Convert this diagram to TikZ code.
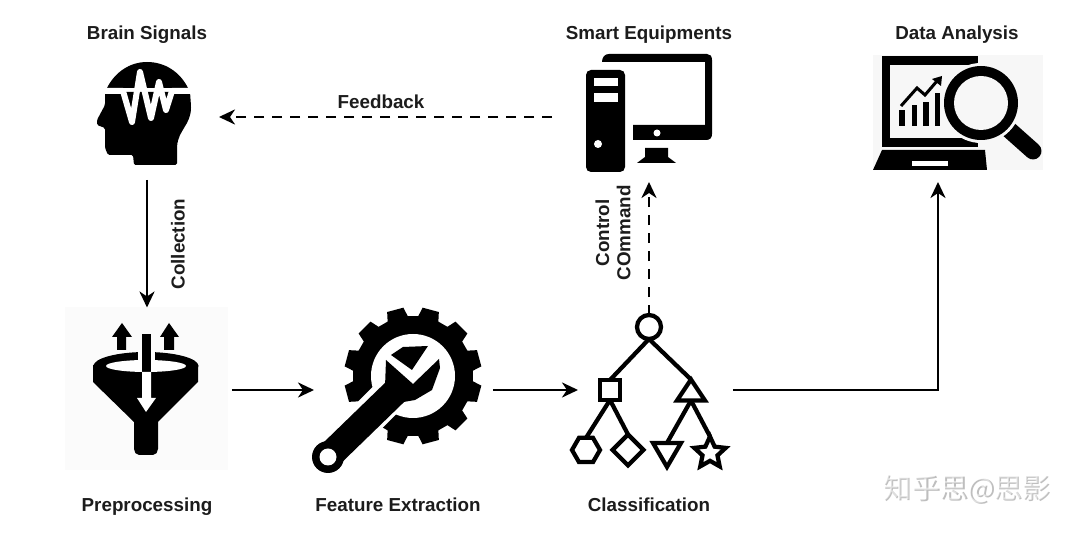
\documentclass[tikz,border=0pt]{standalone}
\usepackage{fontspec}
\setmainfont{Liberation Sans}
\newfontfamily\cjk{Noto Sans CJK SC}
\usetikzlibrary{arrows.meta,calc,shapes.geometric}
\definecolor{ink}{RGB}{0,0,0}
\definecolor{labelink}{RGB}{28,28,28}
\definecolor{markgray}{RGB}{190,190,190}
\definecolor{softcheck}{RGB}{247,247,247}
\definecolor{softfunnel}{RGB}{251,251,251}
\tikzset{
    flow/.style={->,line width=0.055cm,ink},
    flowdash/.style={->,line width=0.055cm,ink,dash pattern=on 0.2cm off 0.16cm},
    caption/.style={font=\bfseries\fontsize{10.7}{12}\selectfont,text=labelink,inner sep=0pt},
    iconbox/.style={minimum width=#1,inner sep=0pt,outer sep=0pt},
    treeedge/.style={line width=0.085cm,ink},
    treenode/.style={draw=ink,line width=0.085cm,fill=white,inner sep=0pt,outer sep=0pt},
    flat/.style={isosceles triangle,isosceles triangle stretches,shape border rotate=#1,minimum width=0.56cm,minimum height=0.42cm},
    watermark/.style={font=\cjk\fontsize{16}{18}\selectfont,inner sep=0pt}
}

\begin{document}
\begin{tikzpicture}[x=0.02cm,y=-0.02cm,>={Stealth[length=0.32cm,width=0.3cm,inset=0.1cm]}]
    \fill[white] (0,0) rectangle (1080,536);
    \useasboundingbox (0,0) rectangle (1080,536);

    % Faint icon backgrounds
    \fill[softfunnel] (65,307) rectangle (228,470);
    \fill[softcheck] (873,55) rectangle (1043,170);

    % Head
    \fill[ink] (107,88) .. controls (115,72) and (130,62) .. (147,62) .. controls (165,62) and (180,72) .. (188,88) -- cycle;
    \fill[ink,rounded corners=0.03cm] (105,92) -- (190,92) -- (191,106) .. controls (191,125) and (178,130) .. (177,148) -- (177,165) -- (134,165) -- (133,155) -- (108,155) -- (105,148) -- (105,128) -- (97,125) -- (97,120) -- (105,105) -- cycle;
    \draw[white,line width=0.12cm,line join=round] (104,91) -- (123,91) -- (132,122) -- (140,72) -- (151,118) -- (159,82) -- (166,110) -- (172,91) -- (192,91);

    % Computer
    \fill[ink,rounded corners=0.1cm] (586,70) rectangle (625,172);
    \fill[white] (594,78) rectangle (618,86);
    \fill[white] (594,93) rectangle (618,102);
    \fill[white] (598,144) circle (4);
    \fill[ink] (602,62) .. controls (602,57) and (605,54) .. (609,54) -- (707,54) .. controls (710,54) and (712,56) .. (712,60) -- (712,134) .. controls (712,138) and (710,140) .. (706,140) -- (633,140) -- (633,125) -- (705,125) -- (705,62) -- cycle;
    \fill[white] (657,133) circle (3.5);
    \fill[ink] (645,148) -- (668,148) -- (668,157) -- (676,163) -- (637,163) -- (645,157) -- cycle;

    % Screen with chart and lens
    \fill[ink] (882,56) rectangle (978,147);
    \fill[softcheck] (890,65) rectangle (978,138);
    \fill[softcheck] (978,56) rectangle (990,147);
    \fill[ink] (899,110) rectangle (905,126);
    \fill[ink] (912,105) rectangle (917,126);
    \fill[ink] (923,102) rectangle (929,126);
    \fill[ink] (935,93) rectangle (940,126);
    \draw[ink,line width=0.06cm] (901,106) -- (917,88) -- (925,95) -- (937,81);
    \fill[ink] (942,76) -- (941,86) -- (932,79) -- cycle;
    \fill[ink] (882,150) -- (985,150) -- (987,170) -- (873,170) -- cycle;
    \fill[white] (912,161) rectangle (948,166);
    \draw[ink,line width=0.34cm,line cap=round] (1006,127) -- (1033,151);
    \fill[softcheck] (981,103) circle (40);
    \fill[ink] (981,103) circle (37);
    \fill[softcheck] (981,103) circle (27);

    % Funnel
    \fill[ink] (122,323) -- (132,337) -- (126,337) -- (126,350) -- (117,350) -- (117,337) -- (112,337) -- cycle;
    \fill[ink] (169,323) -- (179,337) -- (174,337) -- (174,350) -- (164,350) -- (164,337) -- (160,337) -- cycle;
    \fill[ink] (93,365) -- (93,382) -- (134,422) -- (134,449) .. controls (134,452) and (136,455) .. (139,455) -- (153,455) .. controls (156,455) and (158,452) .. (158,449) -- (158,422) -- (198,382) -- (198,365) -- cycle;
    \fill[ink] (146,366) ellipse (52.5 and 14);
    \fill[white] (146,366) ellipse (40 and 6);
    \fill[white] (138,350) rectangle (155,366);
    \fill[ink] (142,334) rectangle (151,372);
    \fill[white] (142,372) -- (151,372) -- (151,398) -- (156,398) -- (146,412) -- (137,398) -- (142,398) -- cycle;

    % Gear and wrench
    \fill[ink,shift={(413,376)}] (5:60) \foreach \a in {15,45,...,345} { -- (\a-10:60) -- (\a-7:69) -- (\a+7:69) -- (\a+10:60) } -- cycle;
    \fill[white] (413,376) circle (42);
    \draw[white,line width=0.72cm] (322,463) -- (400,385);
    \fill[ink] (391,355) -- (403,347) -- (428,346) -- (412,370) -- cycle;
    \fill[ink] (386,360) -- (413,384) -- (439,359) -- (440,368) -- (432,390) -- (415,400) -- (398,403) -- (385,387) -- cycle;
    \draw[ink,line width=0.54cm] (328,457) -- (395,392);
    \fill[ink] (328,457) circle (16);
    \fill[white] (328,457) circle (8.5);

    % Tree of shapes
    \node[treenode,circle,minimum size=0.48cm] (root) at (649,327) {};
    \node[treenode,rectangle,minimum size=0.4cm] (sqnode) at (610,390) {};
    \node[treenode,flat=90] (uptri) at (691,393) {};
    \node[treenode,regular polygon,regular polygon sides=6,minimum size=0.56cm] (hexleaf) at (586,450) {};
    \node[treenode,diamond,minimum size=0.62cm] (diamleaf) at (628,450) {};
    \node[treenode,flat=270,minimum height=0.48cm] (downtri) at (667,451) {};
    \node[treenode,star,star points=5,star point ratio=2.1,minimum size=0.66cm] (starleaf) at (710,453) {};
    \draw[treeedge] (root.south) -- (sqnode.north);
    \draw[treeedge] (root.south) -- (uptri.apex);
    \draw[treeedge] (sqnode.south) -- (hexleaf.north);
    \draw[treeedge] (sqnode.south) -- (diamleaf.north);
    \draw[treeedge] (uptri.south) -- (downtri.north);
    \draw[treeedge] (uptri.south) -- (starleaf.north);

    % Invisible boxes round the icons
    \node[iconbox=2.88cm,minimum height=2.52cm] (brain) at (147,117) {};
    \node[iconbox=3.88cm,minimum height=2.6cm] (smart) at (649,117) {};
    \node[iconbox=4.16cm,minimum height=2.6cm] (data) at (938,117) {};
    \node[iconbox=3.4cm,minimum height=3.3cm] (prep) at (147,390) {};
    \node[iconbox=3.58cm,minimum height=3.4cm] (feat) at (403.5,390) {};
    \node[iconbox=3.1cm,minimum height=3.4cm] (clas) at (655.5,390) {};

    % Connectors
    \draw[flow] (brain) -- (prep);
    \draw[flow] (prep) -- (feat);
    \draw[flow] (feat) -- (clas);
    \draw[flow] (clas.east) -| (data.south);
    \draw[flowdash] (smart.west) -- (brain.east);
    \draw[flowdash] (root.north) -- (smart.south);

    % Labels
    \node[caption] (brainlabel) at (147,35) {Brain Signals};
    \node[caption] (smartlabel) at (649,35) {Smart Equipments};
    \node[caption] (datalabel) at (957,35) {Data Analysis};
    \node[caption] (preplabel) at (147,507) {Preprocessing};
    \node[caption] (featlabel) at (398,505) {Feature Extraction};
    \node[caption] (claslabel) at (649,505) {Classification};
    \node[caption] (fblabel) at (381,102) {Feedback};
    \node[caption,rotate=90] (collabel) at (178,244) {Collection};
    \node[caption,rotate=90,align=center] (cmdlabel) at (613,233) {Control\\COmmand};

    % Watermark
    \node[watermark,text=markgray] (markback) at (968.5,490.5) {知乎思@思影};
    \node[watermark,text=white,opacity=0.5] (markfront) at (967,489) {知乎思@思影};
\end{tikzpicture}
\end{document}
